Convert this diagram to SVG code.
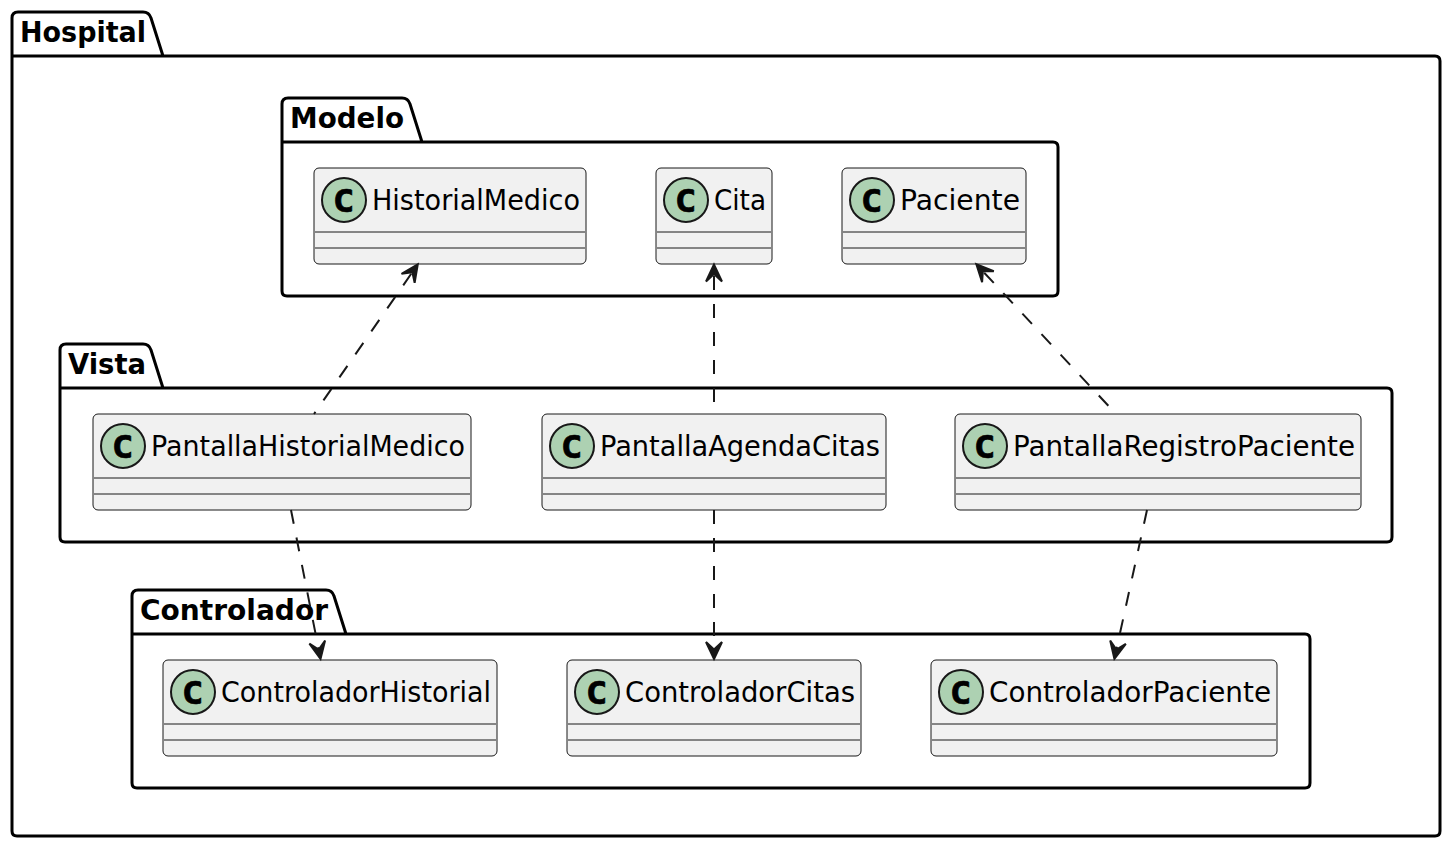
<svg xmlns="http://www.w3.org/2000/svg" width="1454" height="850" viewBox="0 0 1454 850">
<style>
.pkg{fill:none;stroke:#000;stroke-width:3;stroke-linejoin:round}
.ptitle{font:bold 28px "DejaVu Sans",sans-serif;fill:#000}
.box{fill:#F1F1F1;stroke:#181818;stroke-width:1}
.div{stroke:#181818;stroke-width:1}
.spot{fill:#ADD1B2;stroke:#181818;stroke-width:2}
.spotc{font:bold 32px "DejaVu Sans Mono",monospace;fill:#000;stroke:#000;stroke-width:.6;text-anchor:middle}
.name{font:28px "DejaVu Sans",sans-serif;fill:#000}
.dep{fill:none;stroke:#181818;stroke-width:2;stroke-dasharray:14 14}
.head{fill:#181818;stroke:#181818;stroke-width:2}
</style>
<defs>
<marker id="arrowS" markerUnits="userSpaceOnUse" viewBox="-12 -12 30 24" refX="0" refY="0" markerWidth="30" markerHeight="24" orient="auto-start-reverse">
<polygon class="head" points="11.5,0 -5.5,-8 2,0 -5.5,8"/>
</marker>
<marker id="arrowE" markerUnits="userSpaceOnUse" viewBox="-12 -12 30 24" refX="0" refY="0" markerWidth="30" markerHeight="24" orient="auto">
<polygon class="head" points="9,0 -8,-8 -0.5,0 -8,8"/>
</marker>
</defs>
<g id="pkg-Hospital"><path class="pkg" d="M12,56V18Q12,12 18,12H143Q149,12 151,18L163,56H1435Q1440,56 1440,61V831Q1440,836 1435,836H17Q12,836 12,831V56H163"/><text class="ptitle" x="20" y="42" textLength="126" lengthAdjust="spacingAndGlyphs">Hospital</text></g>
<g id="pkg-Modelo"><path class="pkg" d="M282,142V104Q282,98 288,98H402Q408,98 410,104L422,142H1053Q1058,142 1058,147V291Q1058,296 1053,296H287Q282,296 282,291V142H422"/><text class="ptitle" x="290" y="128" textLength="114" lengthAdjust="spacingAndGlyphs">Modelo</text></g>
<g id="pkg-Vista"><path class="pkg" d="M60,388V350Q60,344 66,344H143Q149,344 151,350L163,388H1387Q1392,388 1392,393V537Q1392,542 1387,542H65Q60,542 60,537V388H163"/><text class="ptitle" x="68" y="374" textLength="78" lengthAdjust="spacingAndGlyphs">Vista</text></g>
<g id="pkg-Controlador"><path class="pkg" d="M132,634V596Q132,590 138,590H326Q332,590 334,596L346,634H1305Q1310,634 1310,639V783Q1310,788 1305,788H137Q132,788 132,783V634H346"/><text class="ptitle" x="140" y="620" textLength="188" lengthAdjust="spacingAndGlyphs">Controlador</text></g>

<g id="HistorialMedico" transform="translate(314,168)"><rect class="box" width="272" height="96" rx="5"/><line class="div" x1="1" x2="271" y1="64" y2="64"/><line class="div" x1="1" x2="271" y1="80" y2="80"/><circle class="spot" cx="30" cy="32" r="22"/><text class="spotc" x="29.5" y="44" textLength="21.7" lengthAdjust="spacingAndGlyphs">C</text><text class="name" x="58" y="42" textLength="208" lengthAdjust="spacingAndGlyphs">HistorialMedico</text></g>
<g id="Cita" transform="translate(656,168)"><rect class="box" width="116" height="96" rx="5"/><line class="div" x1="1" x2="115" y1="64" y2="64"/><line class="div" x1="1" x2="115" y1="80" y2="80"/><circle class="spot" cx="30" cy="32" r="22"/><text class="spotc" x="29.5" y="44" textLength="21.7" lengthAdjust="spacingAndGlyphs">C</text><text class="name" x="58" y="42" textLength="52" lengthAdjust="spacingAndGlyphs">Cita</text></g>
<g id="Paciente" transform="translate(842,168)"><rect class="box" width="184" height="96" rx="5"/><line class="div" x1="1" x2="183" y1="64" y2="64"/><line class="div" x1="1" x2="183" y1="80" y2="80"/><circle class="spot" cx="30" cy="32" r="22"/><text class="spotc" x="29.5" y="44" textLength="21.7" lengthAdjust="spacingAndGlyphs">C</text><text class="name" x="58" y="42" textLength="120" lengthAdjust="spacingAndGlyphs">Paciente</text></g>

<g id="PantallaHistorialMedico" transform="translate(93,414)"><rect class="box" width="378" height="96" rx="5"/><line class="div" x1="1" x2="377" y1="64" y2="64"/><line class="div" x1="1" x2="377" y1="80" y2="80"/><circle class="spot" cx="30" cy="32" r="22"/><text class="spotc" x="29.5" y="44" textLength="21.7" lengthAdjust="spacingAndGlyphs">C</text><text class="name" x="58" y="42" textLength="314" lengthAdjust="spacingAndGlyphs">PantallaHistorialMedico</text></g>
<g id="PantallaAgendaCitas" transform="translate(542,414)"><rect class="box" width="344" height="96" rx="5"/><line class="div" x1="1" x2="343" y1="64" y2="64"/><line class="div" x1="1" x2="343" y1="80" y2="80"/><circle class="spot" cx="30" cy="32" r="22"/><text class="spotc" x="29.5" y="44" textLength="21.7" lengthAdjust="spacingAndGlyphs">C</text><text class="name" x="58" y="42" textLength="280" lengthAdjust="spacingAndGlyphs">PantallaAgendaCitas</text></g>
<g id="PantallaRegistroPaciente" transform="translate(955,414)"><rect class="box" width="406" height="96" rx="5"/><line class="div" x1="1" x2="405" y1="64" y2="64"/><line class="div" x1="1" x2="405" y1="80" y2="80"/><circle class="spot" cx="30" cy="32" r="22"/><text class="spotc" x="29.5" y="44" textLength="21.7" lengthAdjust="spacingAndGlyphs">C</text><text class="name" x="58" y="42" textLength="342" lengthAdjust="spacingAndGlyphs">PantallaRegistroPaciente</text></g>

<g id="ControladorHistorial" transform="translate(163,660)"><rect class="box" width="334" height="96" rx="5"/><line class="div" x1="1" x2="333" y1="64" y2="64"/><line class="div" x1="1" x2="333" y1="80" y2="80"/><circle class="spot" cx="30" cy="32" r="22"/><text class="spotc" x="29.5" y="44" textLength="21.7" lengthAdjust="spacingAndGlyphs">C</text><text class="name" x="58" y="42" textLength="270" lengthAdjust="spacingAndGlyphs">ControladorHistorial</text></g>
<g id="ControladorCitas" transform="translate(567,660)"><rect class="box" width="294" height="96" rx="5"/><line class="div" x1="1" x2="293" y1="64" y2="64"/><line class="div" x1="1" x2="293" y1="80" y2="80"/><circle class="spot" cx="30" cy="32" r="22"/><text class="spotc" x="29.5" y="44" textLength="21.7" lengthAdjust="spacingAndGlyphs">C</text><text class="name" x="58" y="42" textLength="230" lengthAdjust="spacingAndGlyphs">ControladorCitas</text></g>
<g id="ControladorPaciente" transform="translate(931,660)"><rect class="box" width="346" height="96" rx="5"/><line class="div" x1="1" x2="345" y1="64" y2="64"/><line class="div" x1="1" x2="345" y1="80" y2="80"/><circle class="spot" cx="30" cy="32" r="22"/><text class="spotc" x="29.5" y="44" textLength="21.7" lengthAdjust="spacingAndGlyphs">C</text><text class="name" x="58" y="42" textLength="282" lengthAdjust="spacingAndGlyphs">ControladorPaciente</text></g>

<g id="connectors">
<path class="dep" marker-start="url(#arrowS)" d="M411.2,273.8L314,414"/>
<path class="dep" marker-start="url(#arrowS)" d="M714,276V414"/>
<path class="dep" marker-start="url(#arrowS)" d="M984.2,272.7L1116,414"/>
<path class="dep" marker-end="url(#arrowE)" d="M291,510L318.8,650"/>
<path class="dep" marker-end="url(#arrowE)" d="M714,510V650"/>
<path class="dep" marker-end="url(#arrowE)" d="M1147,510L1116.3,650"/>
</g>
</svg>
